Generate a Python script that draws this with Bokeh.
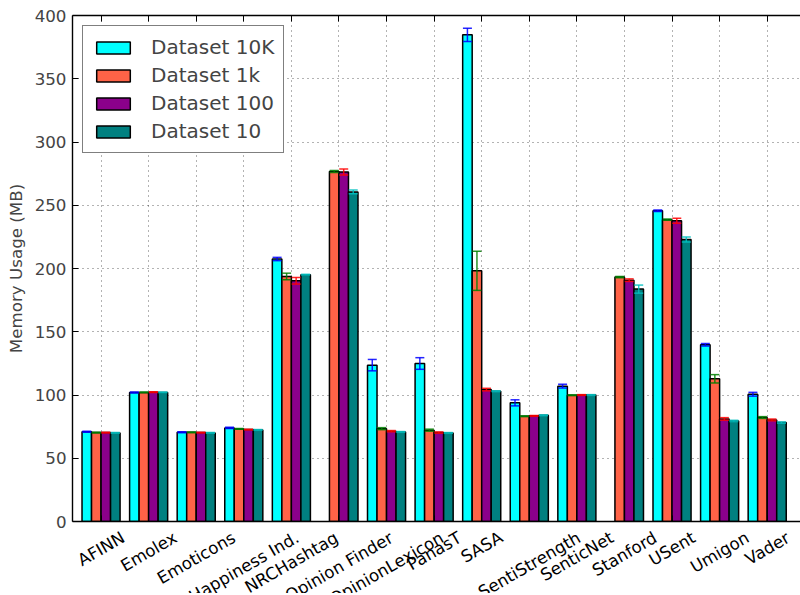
import math
from bokeh.plotting import figure
from bokeh.layouts import column
from bokeh.models import (ColumnDataSource, Range1d, FixedTicker, LinearAxis, Whisker,
                          TeeHead, Legend, LegendItem)
from bokeh.embed import file_html
from bokeh.resources import INLINE

# ---------------- data ----------------
categories = ["AFINN", "Emolex", "Emoticons", "Happiness Ind.", "NRCHashtag",
              "Opinion Finder", "OpinionLexicon", "PanasT", "SASA", "SentiStrength",
              "SenticNet", "Stanford", "USent", "Umigon", "Vader"]
series_names = ["Dataset 10K", "Dataset 1k", "Dataset 100", "Dataset 10"]
nan = float("nan")
mem_10k = [71.0, 102.0, 70.5, 74.0, 207.5, nan, 123.6, 124.9, 384.7, 93.8, 107.0, nan, 245.7, 139.7, 100.6]
err_10k = [0.4, 0.4, 0.4, 0.5, 1.3, nan, 4.5, 4.6, 5.3, 2.4, 1.5, nan, 0.6, 1.0, 1.5]
mem_1k = [70.3, 102.0, 70.5, 73.2, 193.7, 276.6, 73.4, 72.2, 198.2, 83.2, 99.8, 193.2, 238.6, 112.8, 82.2]
err_1k = [0.3, 0.3, 0.3, 0.3, 2.6, 0.8, 0.8, 0.8, 15.5, 0.3, 0.3, 0.5, 0.5, 3.3, 0.7]
mem_100 = [70.3, 102.2, 70.3, 72.7, 190.3, 276.3, 71.4, 70.3, 104.3, 83.5, 100.0, 190.8, 237.8, 81.1, 80.3]
err_100 = [0.3, 0.3, 0.3, 0.3, 2.6, 2.4, 0.5, 0.5, 1.0, 0.3, 0.3, 1.0, 2.0, 1.0, 0.7]
mem_10 = [70.0, 102.0, 70.0, 72.4, 195.1, 260.5, 70.8, 70.0, 103.0, 84.0, 100.0, 183.7, 223.0, 79.5, 78.2]
err_10 = [0.3, 0.3, 0.3, 0.3, 0.3, 1.5, 0.3, 0.3, 0.3, 0.3, 0.3, 3.2, 2.0, 0.5, 0.5]
y_ticks = [0, 50, 100, 150, 200, 250, 300, 350, 400]

values = [mem_10k, mem_1k, mem_100, mem_10]
errors = [err_10k, err_1k, err_100, err_10]
bar_colors = ["#00FFFF", "#FF6347", "#8B008B", "#008080"]
err_colors = ["#0000FF", "#008000", "#FF0000", "#00BFBF"]
offsets = [-0.3, -0.1, 0.1, 0.3]
bar_w = 0.2

FONT = "DejaVu Sans"
FS = "16.7px"

W = 800
LEFT = 72
TOP, FRAME_H, BOT = 15, 506, 8
H1 = TOP + FRAME_H + BOT
H2 = 64

xr = Range1d(-0.6, 14.70)
p = figure(width=W, height=H1, output_backend="svg", toolbar_location=None,
           x_range=xr, y_range=Range1d(0, 400),
           min_border_left=LEFT, min_border_top=TOP, min_border_right=0, min_border_bottom=BOT,
           x_axis_location=None, y_axis_location=None)
p.outline_line_color = None
p.background_fill_color = "white"
p.border_fill_color = "white"

idx = list(range(len(categories)))

yax = LinearAxis(ticker=FixedTicker(ticks=y_ticks), axis_label="Memory Usage (MB)")
yax.major_label_text_font = FONT
yax.major_label_text_font_size = FS
yax.axis_label_text_font = FONT
yax.axis_label_text_font_size = FS
yax.axis_label_text_font_style = "normal"
yax.axis_label_standoff = 6
yax.major_label_standoff = 6
yax.major_tick_in = 6
yax.major_tick_out = 0
yax.minor_tick_in = 0
yax.minor_tick_out = 0
yax.axis_line_width = 1.4
yax.axis_line_color = "black"
p.add_layout(yax, "left")

for side in ("below", "above"):
    ax = LinearAxis(ticker=FixedTicker(ticks=idx),
                    major_label_overrides={i: "" for i in idx})
    ax.major_label_text_font_size = "1px"
    ax.major_label_standoff = 0
    ax.major_tick_in = 6
    ax.major_tick_out = 0
    ax.minor_tick_in = 0
    ax.minor_tick_out = 0
    ax.axis_line_width = 1.4
    ax.axis_line_color = "black"
    p.add_layout(ax, side)

for g in (p.xgrid, p.ygrid):
    g.grid_line_color = "black"
    g.grid_line_alpha = 0.6
    g.grid_line_dash = "1 4"
    g.grid_line_width = 1
p.xgrid.ticker = FixedTicker(ticks=idx)
p.ygrid.ticker = FixedTicker(ticks=y_ticks)

legend_items = []
for k in range(4):
    xs = [i + offsets[k] for i in idx]
    src = ColumnDataSource(dict(x=xs, top=values[k]))
    r = p.vbar(x="x", top="top", width=bar_w, bottom=0, source=src,
               fill_color=bar_colors[k], line_color="black", line_width=1.5)
    legend_items.append(LegendItem(label=series_names[k], renderers=[r]))
    ex, up, lo = [], [], []
    for i in idx:
        v, e = values[k][i], errors[k][i]
        if not (math.isnan(v) or math.isnan(e)):
            ex.append(xs[i]); up.append(v + e); lo.append(v - e)
    esrc = ColumnDataSource(dict(x=ex, upper=up, lower=lo))
    wk = Whisker(source=esrc, base="x", upper="upper", lower="lower", dimension="height",
                 line_color=err_colors[k], line_width=1.5, line_alpha=0.85, level="annotation",
                 upper_head=TeeHead(size=9, line_color=err_colors[k], line_width=1.5, line_alpha=0.85),
                 lower_head=TeeHead(size=9, line_color=err_colors[k], line_width=1.5, line_alpha=0.85))
    p.add_layout(wk)

legend = Legend(items=legend_items, location="top_left", margin=10, padding=9, spacing=4,
                glyph_width=42, glyph_height=15, label_standoff=17, label_height=24,
                label_text_font=FONT, label_text_font_size="20px",
                border_line_color="black", border_line_width=1.5,
                background_fill_color="white", background_fill_alpha=1.0)
p.add_layout(legend)

# ---- rotated category labels (matplotlib style: rotation 30, centred) in a strip below ----
DV = {'A': .684, 'C': .698, 'E': .632, 'F': .575, 'H': .752, 'I': .295, 'L': .557, 'N': .748,
      'O': .787, 'P': .603, 'R': .695, 'S': .635, 'T': .611, 'U': .732, 'V': .684,
      'a': .613, 'c': .550, 'd': .635, 'e': .615, 'f': .352, 'g': .635, 'h': .634, 'i': .278,
      'l': .278, 'm': .974, 'n': .634, 'o': .612, 'p': .635, 'r': .411, 's': .521, 't': .392,
      'u': .634, 'x': .592, 'y': .592, ' ': .318, '.': .318}
fs_px = 16.7
ang = math.radians(30)
pad = 7.0
hh = 17.0
lab_y = []
for c in categories:
    w = sum(DV.get(ch, 0.6) for ch in c) * fs_px
    dy = pad + (w / 2) * math.sin(ang) + (hh / 2) * math.cos(ang) - BOT
    lab_y.append(-dy)

p2 = figure(width=W, height=H2, output_backend="svg", toolbar_location=None,
            x_range=xr, y_range=Range1d(-H2, 0),
            min_border_left=LEFT, min_border_top=0, min_border_right=0, min_border_bottom=0,
            x_axis_location=None, y_axis_location=None)
p2.outline_line_color = None
p2.xgrid.visible = False
p2.ygrid.visible = False
p2.background_fill_color = "white"
p2.border_fill_color = "white"
lsrc = ColumnDataSource(dict(x=idx, y=lab_y, text=categories))
p2.text(x="x", y="y", text="text", source=lsrc, angle=ang,
        text_align="center", text_baseline="middle",
        text_font={"value": FONT}, text_font_size={"value": FS}, text_color="black")

layout = column(p, p2, spacing=0)
open("out.html", "w").write(file_html(layout, INLINE))
